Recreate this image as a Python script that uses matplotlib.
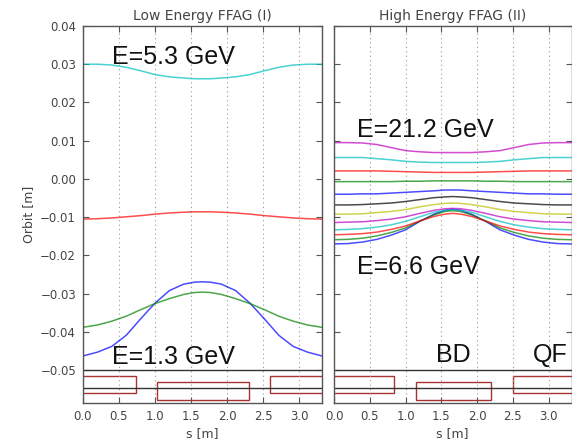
import matplotlib
matplotlib.use("Agg")
import matplotlib.pyplot as plt
from matplotlib.patches import Rectangle
from matplotlib.ticker import FuncFormatter

# ---------------- data ----------------
s = [0.0, 0.2, 0.4, 0.6, 0.8, 1.0, 1.2, 1.4, 1.55, 1.66, 1.77, 1.92, 2.12, 2.32, 2.52, 2.72, 2.92, 3.12, 3.32]

low_colors = ['b', 'g', 'r', 'c']
low_orbits = [
    [-0.0463, -0.0453, -0.0438, -0.0409, -0.0366, -0.0325, -0.0292, -0.0275, -0.0270, -0.0269,
     -0.0270, -0.0275, -0.0292, -0.0325, -0.0366, -0.0409, -0.0438, -0.0453, -0.0463],
    [-0.0388, -0.0382, -0.0372, -0.0359, -0.0342, -0.0326, -0.0313, -0.0302, -0.0297, -0.0296,
     -0.0297, -0.0302, -0.0313, -0.0326, -0.0342, -0.0359, -0.0372, -0.0382, -0.0388],
    [-0.0105, -0.0104, -0.0102, -0.0099, -0.0096, -0.0092, -0.0089, -0.0087, -0.0086, -0.0086,
     -0.0086, -0.0087, -0.0089, -0.0092, -0.0096, -0.0099, -0.0102, -0.0104, -0.0105],
    [0.0300, 0.0300, 0.0298, 0.0292, 0.0283, 0.0273, 0.0267, 0.0264, 0.0262, 0.0262,
     0.0262, 0.0264, 0.0267, 0.0273, 0.0283, 0.0292, 0.0298, 0.0300, 0.0300],
]

high_colors = ['b', 'g', 'r', 'c', 'm', 'y', 'k', 'b', 'g', 'r', 'c', 'm']
high_orbits = [
    [-0.0170, -0.0169, -0.0165, -0.0158, -0.0147, -0.0133, -0.0111, -0.0092, -0.0082, -0.0079,
     -0.0082, -0.0092, -0.0111, -0.0133, -0.0147, -0.0158, -0.0165, -0.0169, -0.0170],
    [-0.0159, -0.0158, -0.0155, -0.0149, -0.0140, -0.0128, -0.0110, -0.0094, -0.0085, -0.0083,
     -0.0085, -0.0094, -0.0110, -0.0128, -0.0140, -0.0149, -0.0155, -0.0158, -0.0159],
    [-0.0146, -0.0145, -0.0143, -0.0139, -0.0132, -0.0123, -0.0110, -0.0098, -0.0092, -0.0090,
     -0.0092, -0.0098, -0.0110, -0.0123, -0.0132, -0.0139, -0.0143, -0.0145, -0.0146],
    [-0.0133, -0.0132, -0.0130, -0.0126, -0.0120, -0.0111, -0.0099, -0.0087, -0.0082, -0.0080,
     -0.0082, -0.0087, -0.0099, -0.0111, -0.0120, -0.0126, -0.0130, -0.0132, -0.0133],
    [-0.0114, -0.0113, -0.0112, -0.0109, -0.0105, -0.0099, -0.0090, -0.0082, -0.0078, -0.0077,
     -0.0078, -0.0082, -0.0090, -0.0099, -0.0105, -0.0109, -0.0112, -0.0113, -0.0114],
    [-0.0092, -0.0092, -0.0091, -0.0088, -0.0085, -0.0080, -0.0073, -0.0067, -0.0064, -0.0063,
     -0.0064, -0.0067, -0.0073, -0.0080, -0.0085, -0.0088, -0.0091, -0.0092, -0.0092],
    [-0.0068, -0.0068, -0.0067, -0.0065, -0.0063, -0.0059, -0.0054, -0.0049, -0.0047, -0.0046,
     -0.0047, -0.0049, -0.0054, -0.0059, -0.0063, -0.0065, -0.0067, -0.0068, -0.0068],
    [-0.0040, -0.0040, -0.0039, -0.0039, -0.0037, -0.0035, -0.0033, -0.0031, -0.0029, -0.0029,
     -0.0029, -0.0031, -0.0033, -0.0035, -0.0037, -0.0039, -0.0039, -0.0040, -0.0040],
    [-0.0007, -0.0007, -0.0007, -0.0007, -0.0007, -0.0006, -0.0006, -0.0005, -0.0005, -0.0005,
     -0.0005, -0.0005, -0.0006, -0.0006, -0.0007, -0.0007, -0.0007, -0.0007, -0.0007],
    [0.0021, 0.0021, 0.0021, 0.0021, 0.0020, 0.0019, 0.0018, 0.0017, 0.0017, 0.0017,
     0.0017, 0.0017, 0.0018, 0.0019, 0.0020, 0.0021, 0.0021, 0.0021, 0.0021],
    [0.0056, 0.0056, 0.0056, 0.0053, 0.0050, 0.0046, 0.0044, 0.0043, 0.0043, 0.0043,
     0.0043, 0.0043, 0.0044, 0.0046, 0.0050, 0.0053, 0.0056, 0.0056, 0.0056],
    [0.0095, 0.0095, 0.0094, 0.0090, 0.0082, 0.0074, 0.0071, 0.0069, 0.0069, 0.0069,
     0.0069, 0.0069, 0.0071, 0.0074, 0.0082, 0.0090, 0.0094, 0.0095, 0.0095],
]

# magnet layout (start, end) in s
low_qf = [(-0.1, 0.74), (2.60, 3.6)]
low_bd = [(1.03, 2.30)]
high_qf = [(-0.1, 0.84), (2.50, 3.6)]
high_bd = [(1.15, 2.20)]
qf_y = (-0.0559, -0.0516)
bd_y = (-0.0577, -0.0532)
strip_lines = [-0.0500, -0.0546]

titles = ['Low Energy FFAG (I)', 'High Energy FFAG (II)']
yticks = [0.04, 0.03, 0.02, 0.01, 0.00, -0.01, -0.02, -0.03, -0.04, -0.05]
xticks = [0.0, 0.5, 1.0, 1.5, 2.0, 2.5, 3.0]

# ---------------- figure ----------------
W, H = 572, 442
fig = plt.figure(figsize=(W / 100, H / 100), dpi=100)
ax1 = fig.add_axes([83 / W, 1 - 403 / H, 239 / W, 377 / H])
ax2 = fig.add_axes([334 / W, 1 - 403 / H, 237.5 / W, 377 / H])

tick_color = '#444444'
spine_color = '#555555'
box_color = '#a83232'


def fmt(v, pos):
    txt = '%.2f' % v
    if v < -1e-9:
        txt = '\u2212' + txt[1:]
    elif abs(v) < 1e-9:
        txt = '0.00'
    return txt


def style(ax, show_ylabels):
    ax.set_xlim(0, 3.32)
    ax.set_ylim(-0.0586, 0.04)
    ax.set_xticks(xticks)
    ax.set_yticks(yticks)
    ax.yaxis.set_major_formatter(FuncFormatter(fmt))
    ax.xaxis.set_major_formatter(FuncFormatter(lambda v, p: '%.1f' % v))
    ax.tick_params(direction='in', top=True, right=True, length=4, width=0.8,
                   colors=spine_color, labelcolor=tick_color, labelsize=8.5, pad=5)
    if not show_ylabels:
        ax.tick_params(labelleft=False)
    for sp in ax.spines.values():
        sp.set_color(spine_color)
        sp.set_linewidth(1.0)
    ax.grid(axis='x', linestyle=(0, (1, 3)), color='#999999', linewidth=0.8)
    ax.set_xlabel('s [m]', fontsize=9, color=tick_color, labelpad=3)


def magnets(ax, qf, bd):
    for y in strip_lines:
        ax.axhline(y, color='#333333', linewidth=1.0)
    for a, b in qf:
        ax.add_patch(Rectangle((a, qf_y[0]), b - a, qf_y[1] - qf_y[0], fill=False,
                               edgecolor=box_color, linewidth=1.0))
    for a, b in bd:
        ax.add_patch(Rectangle((a, bd_y[0]), b - a, bd_y[1] - bd_y[0], fill=False,
                               edgecolor=box_color, linewidth=1.0))


for orbit, c in zip(low_orbits, low_colors):
    ax1.plot(s, orbit, color=c, linewidth=1.1, alpha=0.7)
for orbit, c in zip(high_orbits, high_colors):
    ax2.plot(s, orbit, color=c, linewidth=1.1, alpha=0.7)

style(ax1, True)
style(ax2, False)
magnets(ax1, low_qf, low_bd)
magnets(ax2, high_qf, high_bd)

ax1.set_ylabel('Orbit [m]', fontsize=9, color=tick_color, labelpad=4)
ax1.set_title(titles[0], fontsize=10, color=tick_color, pad=4)
ax2.set_title(titles[1], fontsize=10, color=tick_color, pad=4)

big = dict(fontsize=18, family=['Liberation Sans', 'DejaVu Sans'], color='#111111', va='center', ha='left')
ax1.text(0.40, 0.0318, 'E=5.3 GeV', **big)
ax1.text(0.40, -0.0465, 'E=1.3 GeV', **big)
ax2.text(0.32, 0.0128, 'E=21.2 GeV', **big)
ax2.text(0.32, -0.0231, 'E=6.6 GeV', **big)
ax2.text(1.42, -0.0461, 'BD', **big)
ax2.text(2.78, -0.0461, 'QF', **big)

fig.savefig('out.png', dpi=100)
